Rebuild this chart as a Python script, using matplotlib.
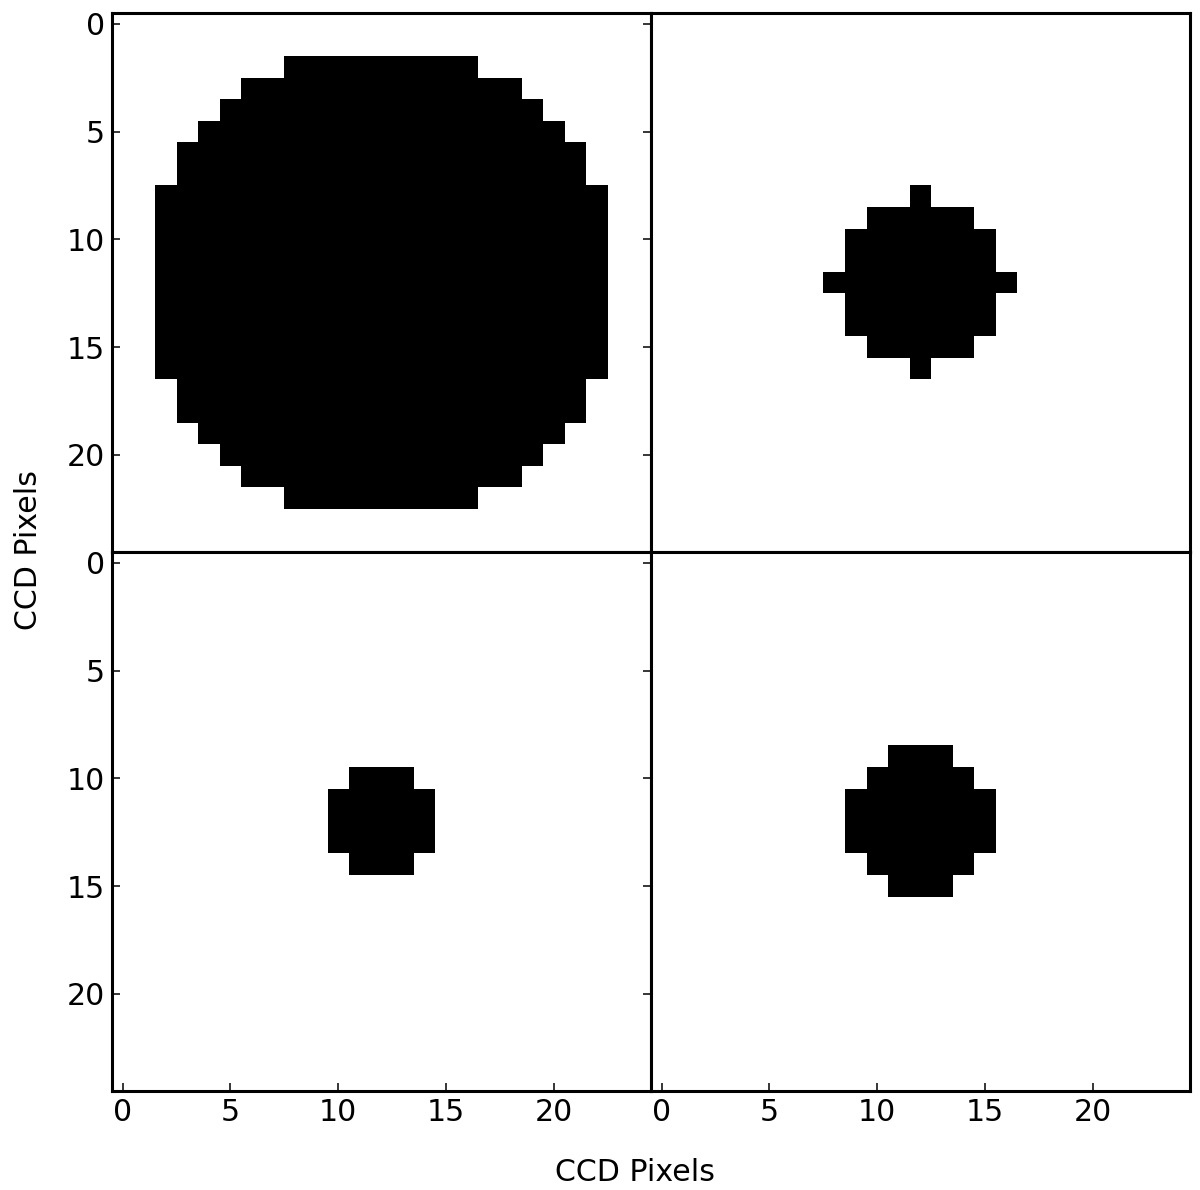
import numpy as np
import matplotlib.pyplot as plt

N = 25
ticks = [0, 5, 10, 15, 20]

# lit pixels per row: row index, first column, last column
big_rows = [2, 3, 4, 5, 6, 7, 8, 9, 10, 11, 12, 13, 14, 15, 16, 17, 18, 19, 20, 21, 22]
big_first = [8, 6, 5, 4, 3, 3, 2, 2, 2, 2, 2, 2, 2, 2, 2, 3, 3, 4, 5, 6, 8]
big_last = [16, 18, 19, 20, 21, 21, 22, 22, 22, 22, 22, 22, 22, 22, 22, 21, 21, 20, 19, 18, 16]

spiky_rows = [8, 9, 10, 11, 12, 13, 14, 15, 16]
spiky_first = [12, 10, 9, 9, 8, 9, 9, 10, 12]
spiky_last = [12, 14, 15, 15, 16, 15, 15, 14, 12]

small_rows = [10, 11, 12, 13, 14]
small_first = [11, 10, 10, 10, 11]
small_last = [13, 14, 14, 14, 13]

mid_rows = [9, 10, 11, 12, 13, 14, 15]
mid_first = [11, 10, 9, 9, 9, 10, 11]
mid_last = [13, 14, 15, 15, 15, 14, 13]


def make_mask(rows, first, last):
    m = np.zeros((N, N))
    for r, a, b in zip(rows, first, last):
        m[r, a:b + 1] = 1
    return m


masks = [make_mask(big_rows, big_first, big_last),
         make_mask(spiky_rows, spiky_first, spiky_last),
         make_mask(small_rows, small_first, small_last),
         make_mask(mid_rows, mid_first, mid_last)]

W, H = 1200, 1190
fig = plt.figure(figsize=(W / 100, H / 100), dpi=100)

xs = [112, 651]
ys = [13, 552]
pw, ph = 538.5, 539

fs = 21.6
for i, m in enumerate(masks):
    row, col = divmod(i, 2)
    left = xs[col] / W
    bottom = 1 - (ys[row] + ph) / H
    ax = fig.add_axes([left, bottom, pw / W, ph / H])
    ax.imshow(m, cmap='gray_r', vmin=0, vmax=1, interpolation='nearest', aspect='auto')
    ax.set_xlim(-0.5, 24.5)
    ax.set_ylim(24.5, -0.5)
    ax.set_xticks(ticks)
    ax.set_yticks(ticks)
    for s in ax.spines.values():
        s.set_linewidth(2.2)
    ax.tick_params(labelsize=fs, length=6, width=1.1, pad=5,
                   top=False, right=False)
    ax.tick_params(axis='y', direction='in' if col == 0 else 'out',
                   labelleft=(col == 0))
    ax.tick_params(axis='x', direction='in' if row == 1 else 'out',
                   labelbottom=(row == 1))

fig.text(635 / W, 1 - 1181 / H, 'CCD Pixels', fontsize=fs,
         ha='center', va='baseline')
fig.text(37 / W, 1 - 550 / H, 'CCD Pixels', fontsize=fs, rotation=90,
         rotation_mode='anchor', ha='center', va='baseline')

plt.savefig('out.png', dpi=100)
